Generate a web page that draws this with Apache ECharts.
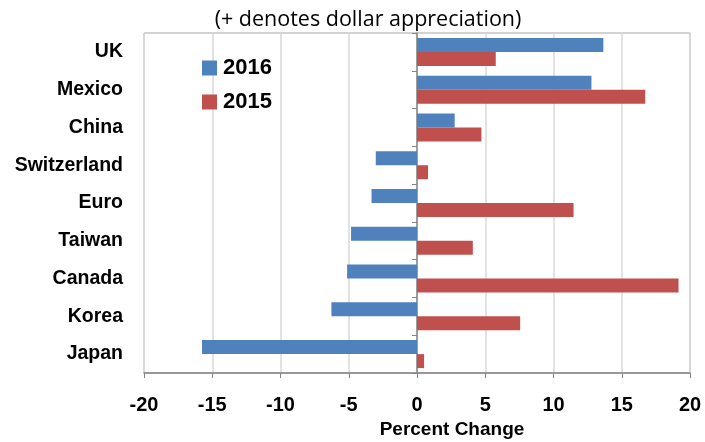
<!DOCTYPE html>
<html>
<head>
<meta charset="utf-8">
<script src="https://cdn.jsdelivr.net/npm/echarts@6/dist/echarts.min.js"></script>
<style>
  html, body { margin: 0; padding: 0; background: #fff; }
  #main { width: 705px; height: 442px; }
</style>
</head>
<body>
<div id="main"></div>
<script>
// categories, top to bottom
const countries = ['UK', 'Mexico', 'China', 'Switzerland', 'Euro', 'Taiwan', 'Canada', 'Korea', 'Japan']
// percent change of dollar vs each currency
const values2016 = [13.65, 12.78, 2.76, -3.02, -3.33, -4.83, -5.12, -6.27, -15.75]
const values2015 = [5.77, 16.72, 4.72, 0.81, 11.47, 4.09, 19.16, 7.56, 0.52]
const xTicks = [-20, -15, -10, -5, 0, 5, 10, 15, 20]

const gridLeft = 144
const gridRight = 15
const plotWidth = 705 - gridLeft - gridRight
// where x = 0 sits, measured from the left edge of the grid
const zeroOffset = plotWidth * (0 - xTicks[0]) / (xTicks[xTicks.length - 1] - xTicks[0])

const font = 'Liberation Sans, Arial, sans-serif'

const chart = echarts.init(document.getElementById('main'))
chart.setOption({
  animation: false,
  title: {
    text: '(+ denotes dollar appreciation)',
    left: 368,
    textAlign: 'center',
    top: 9,
    padding: 0,
    textStyle: { fontFamily: 'Open Sans', fontSize: 21.5, fontWeight: 'normal', color: '#000' }
  },
  legend: {
    data: ['2016', '2015'],
    orient: 'vertical',
    left: 202,
    top: 57,
    padding: 0,
    itemWidth: 15,
    itemHeight: 15,
    itemGap: 12,
    icon: 'rect',
    textStyle: { fontFamily: font, fontSize: 22, lineHeight: 22, fontWeight: 'bold', color: '#000', padding: [0, 0, 0, 1] }
  },
  grid: {
    left: gridLeft, right: gridRight, top: 33, bottom: 69,
    outerBoundsMode: 'none',
    show: true, borderColor: '#a6a6a6', borderWidth: 1
  },
  xAxis: {
    type: 'value',
    min: -20,
    max: 20,
    interval: 5,
    name: 'Percent Change',
    nameLocation: 'middle',
    nameGap: 46,
    nameTextStyle: { fontFamily: font, fontSize: 19, fontWeight: 'bold', color: '#000', padding: [0, 0, 0, 70] },
    axisLine: { show: true, onZero: false, lineStyle: { color: '#868686', width: 1.5 } },
    axisTick: { show: true, length: 5, lineStyle: { color: '#868686' } },
    axisLabel: { fontFamily: font, fontSize: 20, fontWeight: 'bold', color: '#000', margin: 22 },
    splitLine: { show: true, lineStyle: { color: '#d9d9d9', width: 1.5 } }
  },
  yAxis: [
    {
      type: 'category',
      data: countries,
      inverse: true,
      axisLine: { show: false },
      axisTick: { show: false },
      axisLabel: { fontFamily: font, fontSize: 19.5, fontWeight: 'bold', color: '#000', margin: 21 }
    },
    {
      // second copy of the category axis, drawn along x = 0
      type: 'category',
      data: countries,
      inverse: true,
      position: 'left',
      offset: -zeroOffset,
      axisLine: { show: true, onZero: false, lineStyle: { color: '#868686', width: 1.5 } },
      axisTick: { show: true, length: 5, lineStyle: { color: '#868686' } },
      axisLabel: { show: false }
    }
  ],
  series: [
    {
      name: '2016',
      type: 'bar',
      data: values2016,
      barWidth: 14,
      barGap: 0,
      itemStyle: { color: '#4f81bd' }
    },
    {
      name: '2015',
      type: 'bar',
      data: values2015,
      barWidth: 14,
      itemStyle: { color: '#c0504d' }
    }
  ]
})
</script>
</body>
</html>
